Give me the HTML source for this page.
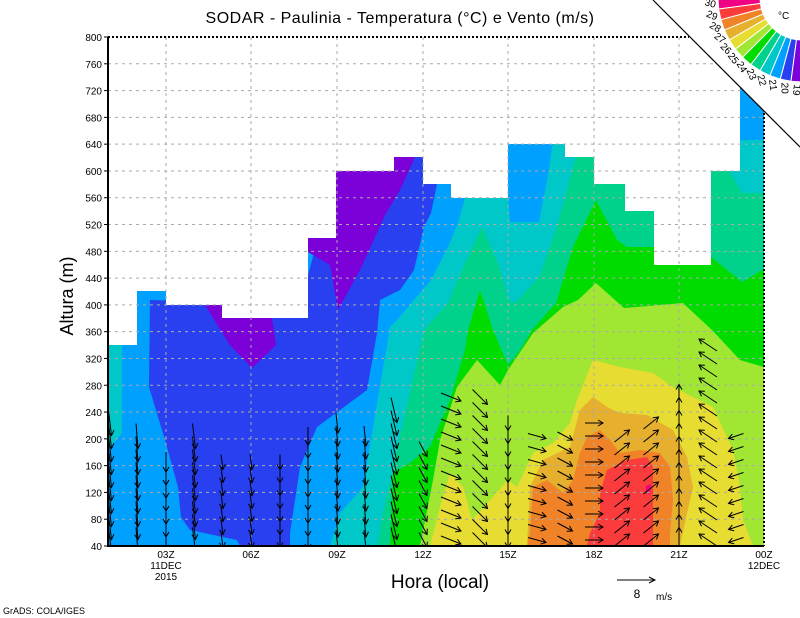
<!DOCTYPE html>
<html><head><meta charset="utf-8"><style>
html,body{margin:0;padding:0;background:#fff;}
svg{display:block;font-family:"Liberation Sans",sans-serif;}
</style></head><body>
<svg id="s" width="800" height="618" viewBox="0 0 800 618" xmlns="http://www.w3.org/2000/svg">
<defs><clipPath id="pa"><rect x="108" y="37" width="656" height="509"/></clipPath></defs>
<g clip-path="url(#pa)">
<rect x="108" y="37" width="656" height="509" fill="#00a0ff"/>
<polygon fill="#00c8c8" points="108,340 122,345 122,433 108,450"/>
<polygon fill="#2840f0" points="150,300 149,387 165,440 178,487 181,517 190,530 237,540 240,546 290,546 290,533 300,467 317,427 367,390 377,333 380,300 400,290 414,270 424,227 431,213 437,184 423,157 394,157 336,171 300,305 150,300"/>
<polygon fill="#7c00d8" points="205,305 222,305 222,318 272,318 276,345 252,368 230,345"/>
<polygon fill="#7c00d8" points="308,238 336,238 336,171 415,150 415,157 400,190 385,215 360,270 338,310 330,265 308,252"/>
<polygon fill="#00c8c8" points="330,546 340,513 363,487 390,327 397,320 431,280 448,247 458,223 465,198 465,140 768,140 768,546"/>
<polygon fill="#00a0ff" points="508,140 553,140 549,170 539,222 510,222 508,198"/>
<polygon fill="#00a0ff" points="736,37 768,37 768,105 736,105"/>
<polygon fill="#00d28c" points="377,546 383,513 393,467 424,330 448,303 465,263 482,227 498,263 509,300 515,303 539,277 556,230 576,157 576,140 729,140 729,170 742,193 768,193 768,546"/>
<polygon fill="#00dc00" points="390,546 393,473 410,463 430,447 450,400 465,350 468,330 480,290 493,330 508,365 520,350 532,330 556,303 573,247 596,200 617,240 627,247 654,247 654,265 711,257 742,282 768,267 768,546"/>
<polygon fill="#a0e632" points="420,546 433,480 440,440 457,387 477,360 500,385 508,370 533,333 563,307 578,300 596,283 624,308 683,303 712,330 740,360 764,367 768,546"/>
<polygon fill="#e6dc32" points="430,546 440,507 450,473 463,487 472,520 490,500 508,480 517,487 533,453 553,443 570,423 577,400 593,360 620,367 653,373 673,387 713,407 733,450 740,487 743,520 753,546"/>
<polygon fill="#e6af2d" points="527,546 530,487 543,460 570,447 580,410 593,397 607,407 620,413 647,415 673,430 687,457 693,487 687,513 680,546"/>
<polygon fill="#f08228" points="527,546 530,533 533,487 547,480 563,493 573,480 580,453 587,437 600,430 610,440 620,453 640,450 660,453 670,467 673,500 670,533 670,546"/>
<polygon fill="#fa3c3c" points="587,546 590,533 600,513 600,493 607,470 627,460 647,457 653,467 653,487 653,533 653,546"/>
<polygon fill="#f00082" points="646,486 651,484 650,494 646,493"/>
<polygon fill="#fff" points="100,30 100,345 137,345 137,291 166,291 166,305 222,305 222,318 308,318 308,238 336,238 336,171 394,171 394,157 423,157 423,184 451,184 451,198 508,198 508,144 565,144 565,157 594,157 594,184 625,184 625,211 654,211 654,265 711,265 711,171 740,171 740,37 800,37 800,30"/>
<g id="grid" stroke="#aaa" stroke-width="1" stroke-dasharray="3,4"></g>
<g id="arr" stroke="#000" stroke-width="1" fill="none"></g>
</g>
<polygon fill="#fff" points="653,0 800,0 800,147"/>
<line x1="653" y1="0" x2="800" y2="147" stroke="#000" stroke-width="1.2"/>
<path d="M108,37 V546 H764" stroke="#000" stroke-width="2" fill="none"/>
<path d="M108,37 H689 M764,113 V546" stroke="#000" stroke-width="2" stroke-dasharray="2,2" fill="none"/>
<g id="wheel"></g>
<text x="400" y="23" font-size="16" text-anchor="middle" letter-spacing="0.5">SODAR - Paulinia - Temperatura (°C) e Vento (m/s)</text>
<text x="778" y="19" font-size="10">°C</text>
<text transform="translate(73,296) rotate(-90)" font-size="18" text-anchor="middle">Altura (m)</text>
<text x="440" y="588" font-size="19" text-anchor="middle">Hora (local)</text>
<g id="ylab" font-size="10" text-anchor="end"></g>
<g font-size="10" text-anchor="middle">
<text x="166" y="558">03Z</text><text x="166" y="569">11DEC</text><text x="166" y="580">2015</text>
<text x="251" y="558">06Z</text><text x="337" y="558">09Z</text><text x="423" y="558">12Z</text>
<text x="508" y="558">15Z</text><text x="594" y="558">18Z</text><text x="679" y="558">21Z</text>
<text x="764" y="558">00Z</text><text x="764" y="569">12DEC</text>
</g>
<line x1="617" y1="580" x2="655" y2="580" stroke="#000"/><path d="M649,577 L655,580 L649,583" stroke="#000" fill="none"/>
<text x="637" y="598" font-size="12" text-anchor="middle">8</text><text x="656" y="600" font-size="10">m/s</text>
<text x="3" y="614" font-size="9">GrADS: COLA/IGES</text>
<script>
var NS="http://www.w3.org/2000/svg";
function el(p,t,a){var e=document.createElementNS(NS,t);for(var k in a)e.setAttribute(k,a[k]);p.appendChild(e);return e;}
var g=document.getElementById("grid"),yl=document.getElementById("ylab");
for(var v=40;v<=800;v+=40){var y=546-(v-40)*509/760;
 if(v>40&&v<800)el(g,"line",{x1:108,y1:y,x2:764,y2:y});
 el(yl,"line",{x1:104,y1:y,x2:108,y2:y,stroke:"#000"});
 var t=el(yl,"text",{x:102,y:y+4});t.textContent=v;}
[166,251,337,423,508,594,679].forEach(function(x){el(g,"line",{x1:x,y1:37,x2:x,y2:546});});
var a=document.getElementById("arr");
var cols=[[110,420,3,25],[137,425,2,25],[166,455,0,20],[194,425,3,25],[222,452,2,15],[251,452,2,15],[280,452,0,15],[308,425,0,18],[337,412,2,20],[365,425,2,20],[394,400,6,25],[423,440,8,15],[451,385,20,8],[480,385,15,15],[508,420,0,15],[537,425,18,5],[565,430,15,8],[594,415,18,0],[622,430,15,-12],[651,420,15,-12],[679,395,0,-25],[708,335,-18,-12],[736,425,-15,5]];
cols.forEach(function(c){for(var y=540;y>=c[1];y-=13){var dx=c[2],dy=c[3],x0=c[0]-dx/2,y0=y-dy/2,x1=c[0]+dx/2,y1=y+dy/2;
 el(a,"line",{x1:x0,y1:y0,x2:x1,y2:y1});var L=Math.sqrt(dx*dx+dy*dy)||1,ux=dx/L,uy=dy/L,h=5;
 el(a,"path",{d:"M"+(x1-h*ux+h*0.6*uy)+","+(y1-h*uy-h*0.6*ux)+" L"+x1+","+y1+" L"+(x1-h*ux-h*0.6*uy)+","+(y1-h*uy+h*0.6*ux)});}});
var w=document.getElementById("wheel");
var cl=["#f00082","#fa3c3c","#f08228","#e6af2d","#e6dc32","#a0e632","#00dc00","#00d28c","#00c8c8","#00a0ff","#2840f0","#7c00d8"];
var cx=802,cy=-2,r1=42,r2=84,D=Math.PI/180;
function P(r,an){return (cx+r*Math.cos(an)).toFixed(1)+","+(cy+r*Math.sin(an)).toFixed(1);}
for(var i=0;i<12;i++){
 var b0=Math.PI-i*7.5*D, b1=Math.PI-(i+1)*7.5*D;
 el(w,"polygon",{points:[P(r1,b0),P(r2,b0),P(r2,b1),P(r1,b1)].join(" "),fill:cl[i],stroke:"#fff","stroke-width":1});
 var am=Math.PI-(i+0.5)*7.5*D;
 var rx=cx+(r2+8)*Math.cos(am),ry=cy+(r2+8)*Math.sin(am);
 var tt=el(w,"text",{x:rx.toFixed(1),y:ry.toFixed(1),"font-size":10,"text-anchor":"middle","dominant-baseline":"middle",transform:"rotate("+(i*7.5+15)+" "+rx.toFixed(1)+" "+ry.toFixed(1)+")"});tt.textContent=30-i;}
</script>
</svg>
</body></html>
